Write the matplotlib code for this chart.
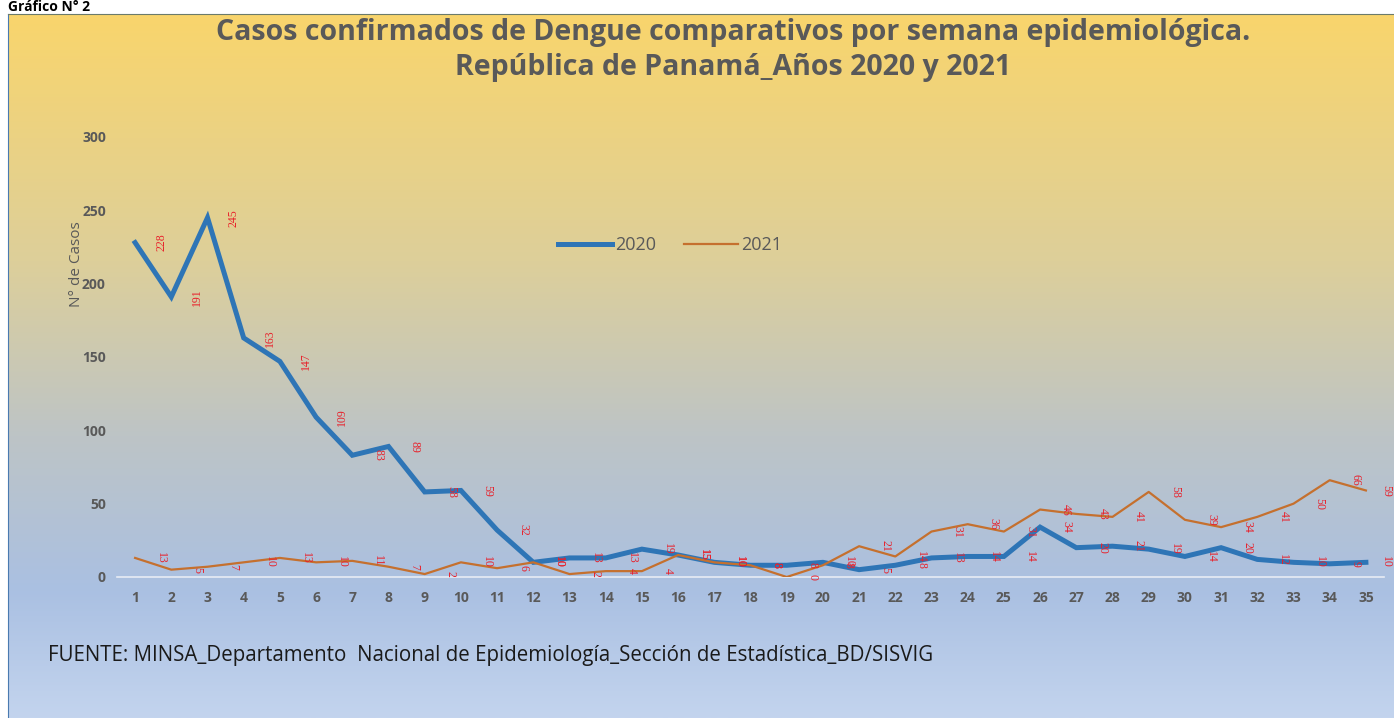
import matplotlib
matplotlib.use('Agg')
import matplotlib.pyplot as plt
import numpy as np
from matplotlib.colors import LinearSegmentedColormap
from matplotlib.lines import Line2D

# Data
weeks = list(range(1, 36))
cases_2020 = [228, 191, 245, 163, 147, 109, 83, 89, 58, 59, 32, 10, 13, 13, 19, 15, 10, 8,
              8, 10, 5, 8, 13, 14, 14, 34, 20, 21, 19, 14, 20, 12, 10, 9, 10]
cases_2021 = [13, 5, 7, 10, 13, 10, 11, 7, 2, 10, 6, 10, 2, 4, 4, 15, 10, 8,
              0, 8, 21, 14, 31, 36, 31, 46, 43, 41, 58, 39, 34, 41, 50, 66, 59]
y_ticks = [0, 50, 100, 150, 200, 250, 300]

title = ("Casos confirmados de Dengue comparativos por semana epidemiológica.\n"
         "República de Panamá_Años 2020 y 2021")
source = "FUENTE: MINSA_Departamento  Nacional de Epidemiología_Sección de Estadística_BD/SISVIG"

W, H = 1394, 718
fig = plt.figure(figsize=(W / 100, H / 100), dpi=100)
fig.patch.set_facecolor('white')

# gradient background box
bg = fig.add_axes([8 / W, 0, 1 - 8 / W, 1 - 14 / H])
grad = LinearSegmentedColormap.from_list('bg', [
    (0.0, '#F9D56C'), (0.35, '#DDCF9A'), (0.6, '#BDC4C6'),
    (0.82, '#AAC0E2'), (1.0, '#C3D4EE')])
bg.imshow(np.linspace(0, 1, 256).reshape(-1, 1), cmap=grad, aspect='auto',
          extent=[0, 1, 0, 1], origin='upper')
bg.set_xticks([])
bg.set_yticks([])
for side in ['right', 'bottom']:
    bg.spines[side].set_visible(False)
bg.spines['top'].set_color('#6B7B6B')
bg.spines['left'].set_color('#4A7AB0')

fig.text(8 / W, 1.0, "Gráfico N° 2", fontsize=10, fontweight='bold',
         family='Open Sans', va='top', ha='left', color='black')

ax = fig.add_axes([117 / W, 1 - 577 / H, (1384 - 117) / W, (577 - 137) / H])
ax.set_facecolor('none')
ax.plot(weeks, cases_2020, color='#2E75B6', lw=3.6, solid_joinstyle='miter', zorder=3)
ax.plot(weeks, cases_2021, color='#C5702E', lw=1.6, zorder=3)
ax.set_xlim(0.5, 35.5)
ax.set_ylim(0, 300)
ax.set_xticks(weeks)
ax.set_yticks(y_ticks)
for side in ['top', 'right', 'left']:
    ax.spines[side].set_visible(False)
ax.spines['bottom'].set_color('#E8ECF4')
ax.spines['bottom'].set_linewidth(1.2)
ax.tick_params(length=0, colors='#595959', labelsize=10)
ax.tick_params(axis='x', pad=10)
ax.tick_params(axis='y', pad=8)
for lbl in ax.get_xticklabels() + ax.get_yticklabels():
    lbl.set_fontfamily('Open Sans')
    lbl.set_fontweight('bold')
ax.set_ylabel("N° de Casos", fontsize=11, color='#595959', family='Open Sans')
ax.yaxis.set_label_coords(-0.026, 0.71)

# data labels, offset to the right of each point
def label_dx(w):
    return 0.55 if w == weeks[-1] else 0.72

for i, (w, v) in enumerate(zip(weeks, cases_2020)):
    rot = 90 if i < 6 else 270
    ax.text(w + label_dx(w), v, str(v), color='#E8202A', fontsize=8.5, rotation=rot,
            ha='center', va='center', family='Liberation Serif', clip_on=False, zorder=4)
for w, v in zip(weeks, cases_2021):
    ax.text(w + label_dx(w), v, str(v), color='#E8202A', fontsize=8.5, rotation=270,
            ha='center', va='center', family='Liberation Serif', clip_on=False, zorder=4)

handles = [Line2D([], [], color='#2E75B6', lw=3.6), Line2D([], [], color='#C5702E', lw=1.6)]
fig.legend(handles, ['2020', '2021'], loc='center', bbox_to_anchor=(670 / W, 1 - 245 / H),
           ncol=2, frameon=False, prop={'family': 'Open Sans', 'size': 13},
           labelcolor='#595959', handlelength=3, handletextpad=0.2, columnspacing=1.5)

fig.text(733 / W, 1 - 50 / H, title, ha='center', va='center', fontsize=20.5,
         fontweight='bold', family='Open Sans', color='#595959', linespacing=1.25)
fig.text(48 / W, 1 - 656 / H, source, ha='left', va='center', fontsize=14.8,
         family='Open Sans', color='#1A1A1A')

fig.savefig('out.png', dpi=100)
